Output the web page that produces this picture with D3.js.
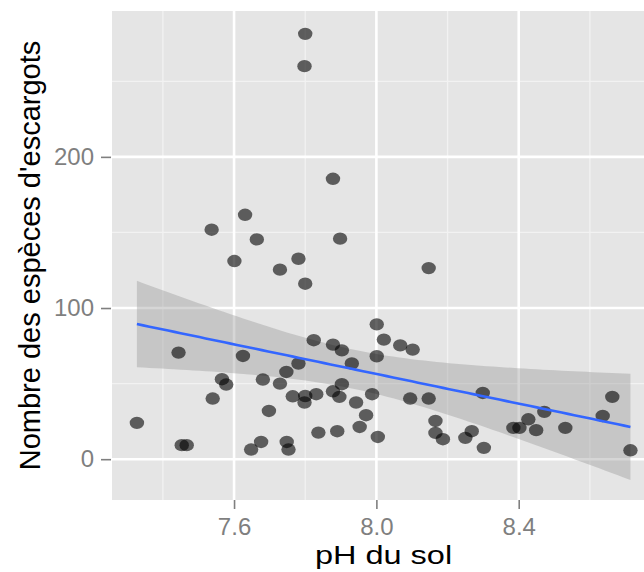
<!DOCTYPE html>
<html>
<head>
<meta charset="utf-8">
<script src="https://cdn.jsdelivr.net/npm/d3@7"></script>
<style>
  html, body { margin: 0; padding: 0; background: #fff; }
  svg { display: block; }
  text { font-family: "Liberation Sans", Arial, Helvetica, sans-serif; }
</style>
</head>
<body>
<div id="chart"></div>
<script>
// Soil pH vs number of snail species
const ph = [
  7.800, 7.798, 7.878, 7.631, 7.537, 7.664, 7.898, 7.601, 7.781, 7.729,
  7.800, 8.147, 7.444, 7.625, 7.824, 7.878, 7.903, 7.931, 7.781, 7.747,
  7.566, 7.578, 7.681, 7.729, 7.540, 7.765, 7.800, 7.831, 7.798, 7.878,
  7.903, 7.896, 7.943, 7.988, 7.698, 7.327, 7.971, 7.953, 8.004, 7.837,
  7.890, 7.453, 7.467, 7.676, 7.648, 7.748, 7.753, 8.001, 8.021, 8.067,
  8.102, 8.001, 8.095, 8.147, 8.299, 8.663, 8.636, 8.472, 8.427, 8.385,
  8.402, 8.449, 8.531, 8.166, 8.166, 8.187, 8.250, 8.268, 8.302, 8.714
];
const especes = [
  281.4, 260.0, 185.5, 161.7, 151.8, 145.4, 145.9, 131.1, 132.6, 125.4,
  116.1, 126.4, 70.5, 68.3, 78.7, 75.8, 72.0, 63.3, 63.3, 57.7,
  52.9, 49.4, 52.7, 50.0, 40.1, 41.6, 41.8, 43.0, 37.5, 44.9,
  49.6, 41.2, 37.5, 43.0, 31.9, 24.0, 29.1, 21.3, 14.7, 17.6,
  18.5, 9.3, 9.3, 11.4, 6.4, 11.4, 6.4, 89.2, 79.1, 75.3,
  72.5, 68.1, 40.1, 40.1, 43.8, 41.2, 28.6, 31.3, 26.4, 20.7,
  20.7, 19.2, 20.7, 25.3, 17.4, 13.2, 14.1, 18.5, 7.5, 5.9
];

const xTicks = [7.6, 8.0, 8.4];
const xMinor = [7.4, 7.8, 8.2, 8.6];
const yTicks = [0, 100, 200];
const yMinor = [50, 150, 250];

const xLimits = [7.257, 8.783];
const yLimits = [-27, 296.5];

const W = 644, H = 572;
const panel = { left: 112, top: 11, right: 655, bottom: 500 };

const svg = d3.select('#chart').append('svg')
  .attr('width', W)
  .attr('height', H);

const x = d3.scaleLinear().domain(xLimits).range([panel.left, panel.right]);
const y = d3.scaleLinear().domain(yLimits).range([panel.bottom, panel.top]);

// Panel background
svg.append('rect')
  .attr('x', panel.left)
  .attr('y', panel.top)
  .attr('width', panel.right - panel.left)
  .attr('height', panel.bottom - panel.top)
  .attr('fill', '#e5e5e5');

// Grid lines
const grid = svg.append('g');
grid.selectAll('line.xminor').data(xMinor).join('line')
  .attr('x1', d => x(d)).attr('x2', d => x(d))
  .attr('y1', panel.top).attr('y2', panel.bottom)
  .attr('stroke', '#f2f2f2').attr('stroke-width', 1.3);
grid.selectAll('line.yminor').data(yMinor).join('line')
  .attr('y1', d => y(d)).attr('y2', d => y(d))
  .attr('x1', panel.left).attr('x2', panel.right)
  .attr('stroke', '#f2f2f2').attr('stroke-width', 1.3);
grid.selectAll('line.xmajor').data(xTicks).join('line')
  .attr('x1', d => x(d)).attr('x2', d => x(d))
  .attr('y1', panel.top).attr('y2', panel.bottom)
  .attr('stroke', '#ffffff').attr('stroke-width', 2.6);
grid.selectAll('line.ymajor').data(yTicks).join('line')
  .attr('y1', d => y(d)).attr('y2', d => y(d))
  .attr('x1', panel.left).attr('x2', panel.right)
  .attr('stroke', '#ffffff').attr('stroke-width', 2.6);

// Linear fit with 95% confidence band (geom_smooth, method = lm)
const pts = ph.map((p, i) => ({ ph: p, n: especes[i] }));
const n = pts.length;
const mx = d3.mean(pts, d => d.ph);
const my = d3.mean(pts, d => d.n);
const sxx = d3.sum(pts, d => (d.ph - mx) ** 2);
const sxy = d3.sum(pts, d => (d.ph - mx) * (d.n - my));
const slope = sxy / sxx;
const icpt = my - slope * mx;
const rss = d3.sum(pts, d => (d.n - (icpt + slope * d.ph)) ** 2);
const sigma = Math.sqrt(rss / (n - 2));
const tCrit = 1.995;

const [xmin, xmax] = d3.extent(ph);
const fit = d3.range(80).map(i => {
  const px = xmin + (xmax - xmin) * i / 79;
  const f = icpt + slope * px;
  const se = sigma * Math.sqrt(1 / n + (px - mx) ** 2 / sxx);
  return { ph: px, fit: f, lo: f - tCrit * se, hi: f + tCrit * se };
});

svg.append('path')
  .datum(fit)
  .attr('d', d3.area().x(d => x(d.ph)).y0(d => y(d.lo)).y1(d => y(d.hi)))
  .attr('fill', '#999999')
  .attr('fill-opacity', 0.4);

// Points
svg.append('g')
  .selectAll('ellipse')
  .data(pts)
  .join('ellipse')
  .attr('cx', d => x(d.ph))
  .attr('cy', d => y(d.n))
  .attr('rx', 7.2)
  .attr('ry', 6.2)
  .attr('fill', '#000')
  .attr('fill-opacity', 0.6);

svg.append('path')
  .datum(fit)
  .attr('d', d3.line().x(d => x(d.ph)).y(d => y(d.fit)))
  .attr('fill', 'none')
  .attr('stroke', '#3366ff')
  .attr('stroke-width', 2.6);

// Axes
const xAxis = svg.append('g')
  .attr('transform', `translate(0,${panel.bottom})`)
  .call(d3.axisBottom(x).tickValues(xTicks).tickFormat(d3.format('.1f')).tickSize(9).tickPadding(9));
const yAxis = svg.append('g')
  .attr('transform', `translate(${panel.left - 1},0)`)
  .call(d3.axisLeft(y).tickValues(yTicks).tickSize(10).tickPadding(7));

for (const ax of [xAxis, yAxis]) {
  ax.select('.domain').remove();
  ax.selectAll('line').attr('stroke', '#7f7f7f').attr('stroke-width', 1.6);
  ax.selectAll('text')
    .attr('fill', '#7f7f7f')
    .style('font-size', '24px');
}

// Axis titles
svg.append('text')
  .attr('transform', `translate(${(panel.left + panel.right) / 2},564) scale(1.3,1)`)
  .attr('text-anchor', 'middle')
  .style('font-size', '25px')
  .attr('fill', '#000')
  .text('pH du sol');

svg.append('text')
  .attr('transform', `translate(40,${(panel.top + panel.bottom) / 2}) rotate(-90)`)
  .attr('text-anchor', 'middle')
  .style('font-size', '29px')
  .attr('fill', '#000')
  .text("Nombre des espèces d'escargots");
</script>
</body>
</html>
